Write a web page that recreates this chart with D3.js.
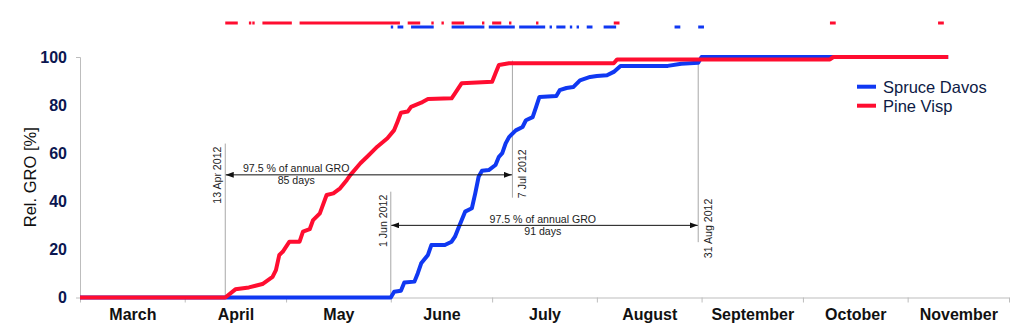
<!DOCTYPE html>
<html>
<head>
<meta charset="utf-8">
<script src="https://cdn.jsdelivr.net/npm/d3@7"></script>
<style>
  body { margin: 0; background: #fff; }
  svg { display: block; font-family: Arial, "Liberation Sans", sans-serif; }
  .axis path, .axis line { stroke: #bdbdbd; }
  .y-axis text { font-size: 16px; font-weight: bold; fill: #0b1650; }
  .month-labels text { font-size: 16px; font-weight: bold; fill: #111; }
  .axis-title { font-size: 16.5px; fill: #111; }
  .anno { font-size: 10.6px; fill: #222; }
  .legend text { font-size: 16.5px; fill: #0d1a45; }
</style>
</head>
<body>
<div id="chart"></div>
<script>
// Categorias (meses) e ticks
const months = ["March", "April", "May", "June", "July", "August", "September", "October", "November"];
const yTicks = [0, 20, 40, 60, 80, 100];

// Série Pine Visp (vermelho)
const pineDates = ["2012-03-01","2012-04-13","2012-04-16","2012-04-20","2012-04-24","2012-04-27","2012-04-28","2012-04-29","2012-04-30","2012-05-02","2012-05-05","2012-05-06","2012-05-08","2012-05-09","2012-05-11","2012-05-13","2012-05-15","2012-05-17","2012-05-19","2012-05-20","2012-05-23","2012-05-25","2012-05-28","2012-05-31","2012-06-02","2012-06-03","2012-06-04","2012-06-06","2012-06-07","2012-06-10","2012-06-12","2012-06-19","2012-06-20","2012-06-22","2012-07-01","2012-07-02","2012-07-03","2012-07-06","2012-08-06","2012-08-07","2012-10-09","2012-10-10","2012-11-13"];
const pineValues = [0,0,3.4,4.2,5.6,8.6,11.4,17.7,19.0,23.2,23.2,27.4,28.4,32.2,35.0,42.6,43.3,45.4,48.9,50.9,55.8,58.5,62.7,66.2,69.6,73.1,76.8,77.3,79.3,81.0,82.5,82.8,84.9,89.1,89.7,93.2,96.7,97.4,97.4,99.0,99.0,100,100];

// Série Spruce Davos (azul)
const spruceDates = ["2012-03-01","2012-06-01","2012-06-02","2012-06-04","2012-06-05","2012-06-08","2012-06-09","2012-06-10","2012-06-12","2012-06-13","2012-06-17","2012-06-19","2012-06-20","2012-06-21","2012-06-22","2012-06-23","2012-06-25","2012-06-26","2012-06-27","2012-06-28","2012-06-30","2012-07-02","2012-07-03","2012-07-04","2012-07-05","2012-07-06","2012-07-08","2012-07-10","2012-07-11","2012-07-13","2012-07-14","2012-07-15","2012-07-20","2012-07-21","2012-07-23","2012-07-25","2012-07-27","2012-07-30","2012-08-01","2012-08-04","2012-08-06","2012-08-08","2012-08-22","2012-08-26","2012-08-31","2012-09-01","2012-11-13"];
const spruceValues = [0,0,2.4,2.8,6.2,6.6,10.1,14.2,17.7,21.8,21.8,23.2,25.3,28.8,32.2,35.7,37.1,43.3,50.2,52.7,53.0,55.1,58.5,60.0,64.1,66.7,69.5,70.9,73.7,75.0,79.2,83.4,83.8,86.2,87.1,87.5,90.3,91.7,92.1,92.4,93.8,96.3,96.3,97.2,97.6,100,100];

// Dias com crescimento (marcas no topo): [início, fim)
const pineGrowthDays = [["2012-04-13","2012-04-17"],["2012-04-20","2012-04-21"],["2012-04-21","2012-04-22"],["2012-04-24","2012-05-03"],["2012-05-05","2012-06-04"],["2012-06-06","2012-06-10"],["2012-06-13","2012-06-14"],["2012-06-16","2012-06-17"],["2012-06-19","2012-06-23"],["2012-06-28","2012-06-29"],["2012-07-01","2012-07-04"],["2012-07-06","2012-07-07"],["2012-07-14","2012-07-15"],["2012-08-06","2012-08-08"],["2012-10-09","2012-10-11"],["2012-11-10","2012-11-12"]];
const spruceGrowthDays = [["2012-06-01","2012-06-02"],["2012-06-03","2012-06-05"],["2012-06-07","2012-06-14"],["2012-06-19","2012-06-29"],["2012-06-30","2012-07-08"],["2012-07-09","2012-07-17"],["2012-07-18","2012-07-19"],["2012-07-20","2012-07-23"],["2012-07-24","2012-07-25"],["2012-07-26","2012-07-27"],["2012-07-29","2012-07-31"],["2012-08-03","2012-08-07"],["2012-08-24","2012-08-26"],["2012-08-31","2012-09-02"]];

// Anotações: período de 97.5 % do GRO anual
const annoStarts = ["2012-04-13", "2012-06-01"];
const annoEnds = ["2012-07-07", "2012-08-31"];
const annoDays = [85, 91];
const annoLevels = [51, 30];
const annoLabelDates = ["2012-05-04", "2012-07-16"];
const annoStartText = ["13 Apr 2012", "1 Jun 2012"];
const annoEndText = ["7 Jul 2012", "31 Aug 2012"];

const seriesNames = ["Spruce Davos", "Pine Visp"];
const colors = ["#1038f2", "#ff0d30"];

const width = 1024, height = 331;
const margin = {top: 57, right: 15, bottom: 33.5, left: 80};
const parse = d3.timeParse("%Y-%m-%d");

const svg = d3.select("#chart").append("svg")
  .attr("width", width)
  .attr("height", height);

const x = d3.scaleTime()
  .domain([parse("2012-03-01"), parse("2012-12-01")])
  .range([margin.left, width - margin.right]);

const y = d3.scaleLinear()
  .domain([0, 100])
  .range([height - margin.bottom, margin.top]);

// Eixo X: ticks nos limites dos meses
const monthStarts = d3.timeMonth.range(parse("2012-03-01"), parse("2012-12-02"));
svg.append("g")
  .attr("class", "axis x-axis")
  .attr("transform", `translate(0,${y(0)})`)
  .call(d3.axisBottom(x).tickValues(monthStarts).tickFormat("").tickSizeInner(5).tickSizeOuter(0));

// Rótulos dos meses centrados
const monthMids = monthStarts.slice(0, -1).map((d, i) => new Date((+d + +monthStarts[i + 1]) / 2));
svg.append("g")
  .attr("class", "month-labels")
  .attr("transform", `translate(0,${y(0)})`)
  .call(d3.axisBottom(x).tickValues(monthMids).tickFormat((d, i) => months[i]).tickSize(0))
  .call(g => g.select(".domain").remove())
  .call(g => g.selectAll("text").attr("y", 22).attr("dy", null));

// Eixo Y
svg.append("g")
  .attr("class", "axis y-axis")
  .attr("transform", `translate(${margin.left},0)`)
  .call(d3.axisLeft(y).tickValues(yTicks).tickSizeInner(0).tickSizeOuter(4).tickPadding(13));

svg.append("text")
  .attr("class", "axis-title")
  .attr("transform", `translate(35.5,${(y(0) + y(100)) / 2}) rotate(-90)`)
  .attr("text-anchor", "middle")
  .text("Rel. GRO [%]");

// Marcas de dias com crescimento
const rows = [
  {days: spruceGrowthDays, color: colors[0], top: 25.5},
  {days: pineGrowthDays, color: colors[1], top: 21.5}
];
rows.forEach(r => {
  svg.append("g").selectAll("rect")
    .data(r.days)
    .enter()
    .append("rect")
    .attr("x", d => x(parse(d[0])))
    .attr("y", r.top)
    .attr("width", d => Math.max(2, x(parse(d[1])) - x(parse(d[0])) - 1))
    .attr("height", 3)
    .attr("fill", r.color);
});

// Linhas de anotação (cinza)
const vlines = [
  {date: annoStarts[0], from: 0, to: 64},
  {date: annoEnds[0], from: 41.5, to: 98.5},
  {date: annoStarts[1], from: 0, to: 44},
  {date: annoEnds[1], from: 23, to: 99}
];
svg.append("g").selectAll("line")
  .data(vlines)
  .enter()
  .append("line")
  .attr("x1", d => x(parse(d.date)))
  .attr("x2", d => x(parse(d.date)))
  .attr("y1", d => y(d.from))
  .attr("y2", d => y(d.to))
  .attr("stroke", "#a8a8a8")
  .attr("stroke-width", 1);

// Curvas
const line = d3.line()
  .x(d => x(d.date))
  .y(d => y(d.value));

const spruce = spruceDates.map((d, i) => ({date: parse(d), value: spruceValues[i]}));
const pine = pineDates.map((d, i) => ({date: parse(d), value: pineValues[i]}));

[spruce, pine].forEach((s, i) => {
  svg.append("path")
    .datum(s)
    .attr("fill", "none")
    .attr("stroke", colors[i])
    .attr("stroke-width", 4)
    .attr("stroke-linejoin", "round")
    .attr("d", line);
});

// Setas
svg.append("defs").append("marker")
  .attr("id", "arrow")
  .attr("markerUnits", "userSpaceOnUse")
  .attr("viewBox", "0 0 8 6")
  .attr("refX", 8)
  .attr("refY", 3)
  .attr("markerWidth", 8)
  .attr("markerHeight", 6)
  .attr("orient", "auto-start-reverse")
  .append("path")
  .attr("d", "M0,0L8,3L0,6Z")
  .attr("fill", "#111");

annoStarts.forEach((s, i) => {
  const x0 = x(parse(s)), x1 = x(parse(annoEnds[i])), yy = y(annoLevels[i]);
  svg.append("line")
    .attr("x1", x0 + 0.5).attr("x2", x1 - 0.5)
    .attr("y1", yy).attr("y2", yy)
    .attr("stroke", "#111")
    .attr("stroke-width", 1)
    .attr("marker-start", "url(#arrow)")
    .attr("marker-end", "url(#arrow)");

  const lx = x(parse(annoLabelDates[i]));
  svg.append("text").attr("class", "anno")
    .attr("x", lx).attr("y", yy - 2.5)
    .attr("text-anchor", "middle")
    .text("97.5 % of annual GRO");
  svg.append("text").attr("class", "anno")
    .attr("x", lx).attr("y", yy + 9.5)
    .attr("text-anchor", "middle")
    .text(`${annoDays[i]} days`);
});

// Rótulos das datas (rotacionados)
const dateLabels = [
  {date: annoStarts[0], text: annoStartText[0], dx: -4.5, yv: y(64) + 3, anchor: "end"},
  {date: annoStarts[1], text: annoStartText[1], dx: -4, yv: y(44) + 3, anchor: "end"},
  {date: annoEnds[0], text: annoEndText[0], dx: 13.5, yv: y(41.5) + 0.5, anchor: "start"},
  {date: annoEnds[1], text: annoEndText[1], dx: 14, yv: y(23) + 16, anchor: "start"}
];
svg.append("g").selectAll("text")
  .data(dateLabels)
  .enter()
  .append("text")
  .attr("class", "anno")
  .attr("text-anchor", d => d.anchor)
  .attr("transform", d => `translate(${x(parse(d.date)) + d.dx},${d.yv}) rotate(-90)`)
  .text(d => d.text);

// Legenda
const legend = svg.append("g").attr("class", "legend");
seriesNames.forEach((name, i) => {
  const ly = 86.7 + i * 19;
  legend.append("line")
    .attr("x1", 857).attr("x2", 876)
    .attr("y1", ly).attr("y2", ly)
    .attr("stroke", colors[i])
    .attr("stroke-width", 4);
  legend.append("text")
    .attr("x", 883).attr("y", ly + 6)
    .text(name);
});
</script>
</body>
</html>
